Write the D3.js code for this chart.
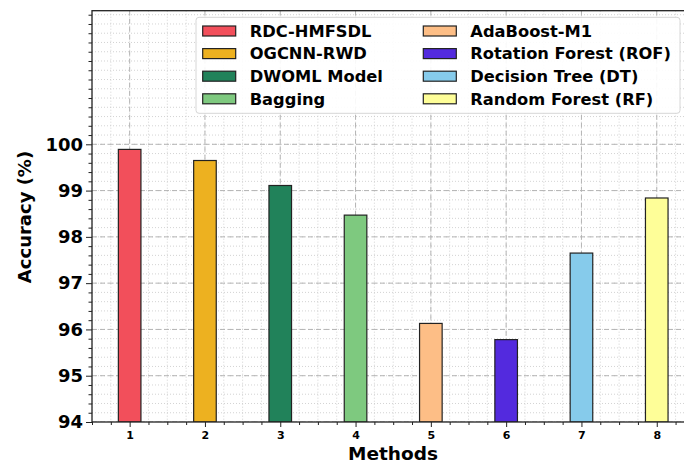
<!DOCTYPE html>
<html><head><meta charset="utf-8">
<script src="https://cdn.jsdelivr.net/npm/d3@7"></script>
<style>html,body{margin:0;padding:0;background:#fff;overflow:hidden}</style>
</head><body>
<svg id="c" width="684" height="464"></svg>
<script>
const methods = [1,2,3,4,5,6,7,8];
const names = ["RDC-HMFSDL","OGCNN-RWD","DWOML Model","Bagging","AdaBoost-M1","Rotation Forest (ROF)","Decision Tree (DT)","Random Forest (RF)"];
const accuracy = [99.89,99.65,99.11,98.47,96.13,95.78,97.65,98.84];
const colors = ["#f24f5b","#edb120","#21825a","#7ec97f","#fdbe86","#532ade","#86cbeb","#fefe98"];
const yTicks = [94,95,96,97,98,99,100];

const svg = d3.select("#c");
const L=92, T=10.7, B=422, R=694.4;
const x = d3.scaleLinear().domain([0.5,8.5]).range([L,R]);
const y = d3.scaleLinear().domain([94, d3.max(accuracy)*1.03]).range([B,T]);
const font = "'DejaVu Sans', sans-serif";

svg.append("defs").append("clipPath").attr("id","pc").append("rect")
  .attr("x",L).attr("y",T).attr("width",R-L).attr("height",B-T);
const g = svg.append("g").attr("clip-path","url(#pc)");

// minor grid
const xMinor = d3.range(0.5, 8.5001, 0.25);
const yMinor = d3.range(94, 102.9, 0.2);
g.selectAll(".mx").data(xMinor).join("line")
  .attr("x1",d=>x(d)).attr("x2",d=>x(d)).attr("y1",T).attr("y2",B)
  .attr("stroke","#c8c8c8").attr("stroke-width",0.8).attr("stroke-dasharray","1,2");
g.selectAll(".my").data(yMinor).join("line")
  .attr("y1",d=>y(d)).attr("y2",d=>y(d)).attr("x1",L).attr("x2",R)
  .attr("stroke","#c8c8c8").attr("stroke-width",0.8).attr("stroke-dasharray","1,2");
// major grid
g.selectAll(".Mx").data(methods).join("line")
  .attr("x1",d=>x(d)).attr("x2",d=>x(d)).attr("y1",T).attr("y2",B)
  .attr("stroke","#b4b4b4").attr("stroke-width",1).attr("stroke-dasharray","5,3");
g.selectAll(".My").data(yTicks).join("line")
  .attr("y1",d=>y(d)).attr("y2",d=>y(d)).attr("x1",L).attr("x2",R)
  .attr("stroke","#b4b4b4").attr("stroke-width",1).attr("stroke-dasharray","5,3");

// bars
const bw = 0.3;
g.selectAll(".bar").data(accuracy).join("rect")
  .attr("x",(d,i)=>x(methods[i]-bw/2)).attr("width",x(bw)-x(0))
  .attr("y",d=>y(d)).attr("height",d=>B-y(d))
  .attr("fill",(d,i)=>colors[i]).attr("stroke","#222").attr("stroke-width",1.2);

// axes
const yAxis = d3.axisLeft(y).tickValues(yTicks).tickFormat(d3.format("d")).tickSize(6).tickPadding(3);
const ya = svg.append("g").attr("transform",`translate(${L},0)`).call(yAxis);
ya.selectAll("text").attr("font-family",font).attr("font-weight","bold").attr("font-size",18).attr("fill","#000");
const yMinorAxis = d3.axisLeft(y).tickValues(yMinor.filter(v=>Math.abs(v-Math.round(v))>1e-6 || v>100.5)).tickFormat("").tickSize(3.5);
svg.append("g").attr("transform",`translate(${L},0)`).call(yMinorAxis);

const xAxis = d3.axisBottom(x).tickValues(methods).tickFormat(d3.format("d")).tickSize(5).tickPadding(4);
const xa = svg.append("g").attr("transform",`translate(0,${B})`).call(xAxis);
xa.selectAll("text").attr("font-family",font).attr("font-weight","bold").attr("font-size",11).attr("fill","#000");
const xMinorAxis = d3.axisBottom(x).tickValues(xMinor.filter(v=>Math.abs(v-Math.round(v))>1e-6)).tickFormat("").tickSize(3);
svg.append("g").attr("transform",`translate(0,${B})`).call(xMinorAxis);
svg.selectAll(".domain").remove();
svg.selectAll(".tick line").attr("stroke","#222").attr("stroke-width",1);

// spines
svg.append("rect").attr("x",L).attr("y",T).attr("width",R-L).attr("height",B-T)
  .attr("fill","none").attr("stroke","#222").attr("stroke-width",1.3);

// labels
svg.append("text").attr("x",393).attr("y",460).attr("text-anchor","middle")
  .attr("font-family",font).attr("font-weight","bold").attr("font-size",18.5).text("Methods");
svg.append("text").attr("transform","translate(31,217) rotate(-90)").attr("text-anchor","middle")
  .attr("font-family",font).attr("font-weight","bold").attr("font-size",18).text("Accuracy (%)");

// legend
const lg = svg.append("g");
lg.append("rect").attr("x",196).attr("y",17.3).attr("width",484).attr("height",96).attr("rx",3)
  .attr("fill","#fff").attr("fill-opacity",0.9).attr("stroke","#d6d6d6").attr("stroke-width",1);
const colX = [202.7, 423.3];
const rowY = [31, 53.6, 76.2, 98.8];
names.forEach((n,i)=>{
  const cx = colX[Math.floor(i/4)], cy = rowY[i%4];
  lg.append("rect").attr("x",cx).attr("y",cy-5).attr("width",33).attr("height",10)
    .attr("fill",colors[i]).attr("stroke","#222").attr("stroke-width",1.2);
  lg.append("text").attr("x",cx+47).attr("y",cy+5.8).attr("font-family",font)
    .attr("font-weight","bold").attr("font-size",16.3).attr("fill","#000").text(n);
});
</script>
</body></html>
